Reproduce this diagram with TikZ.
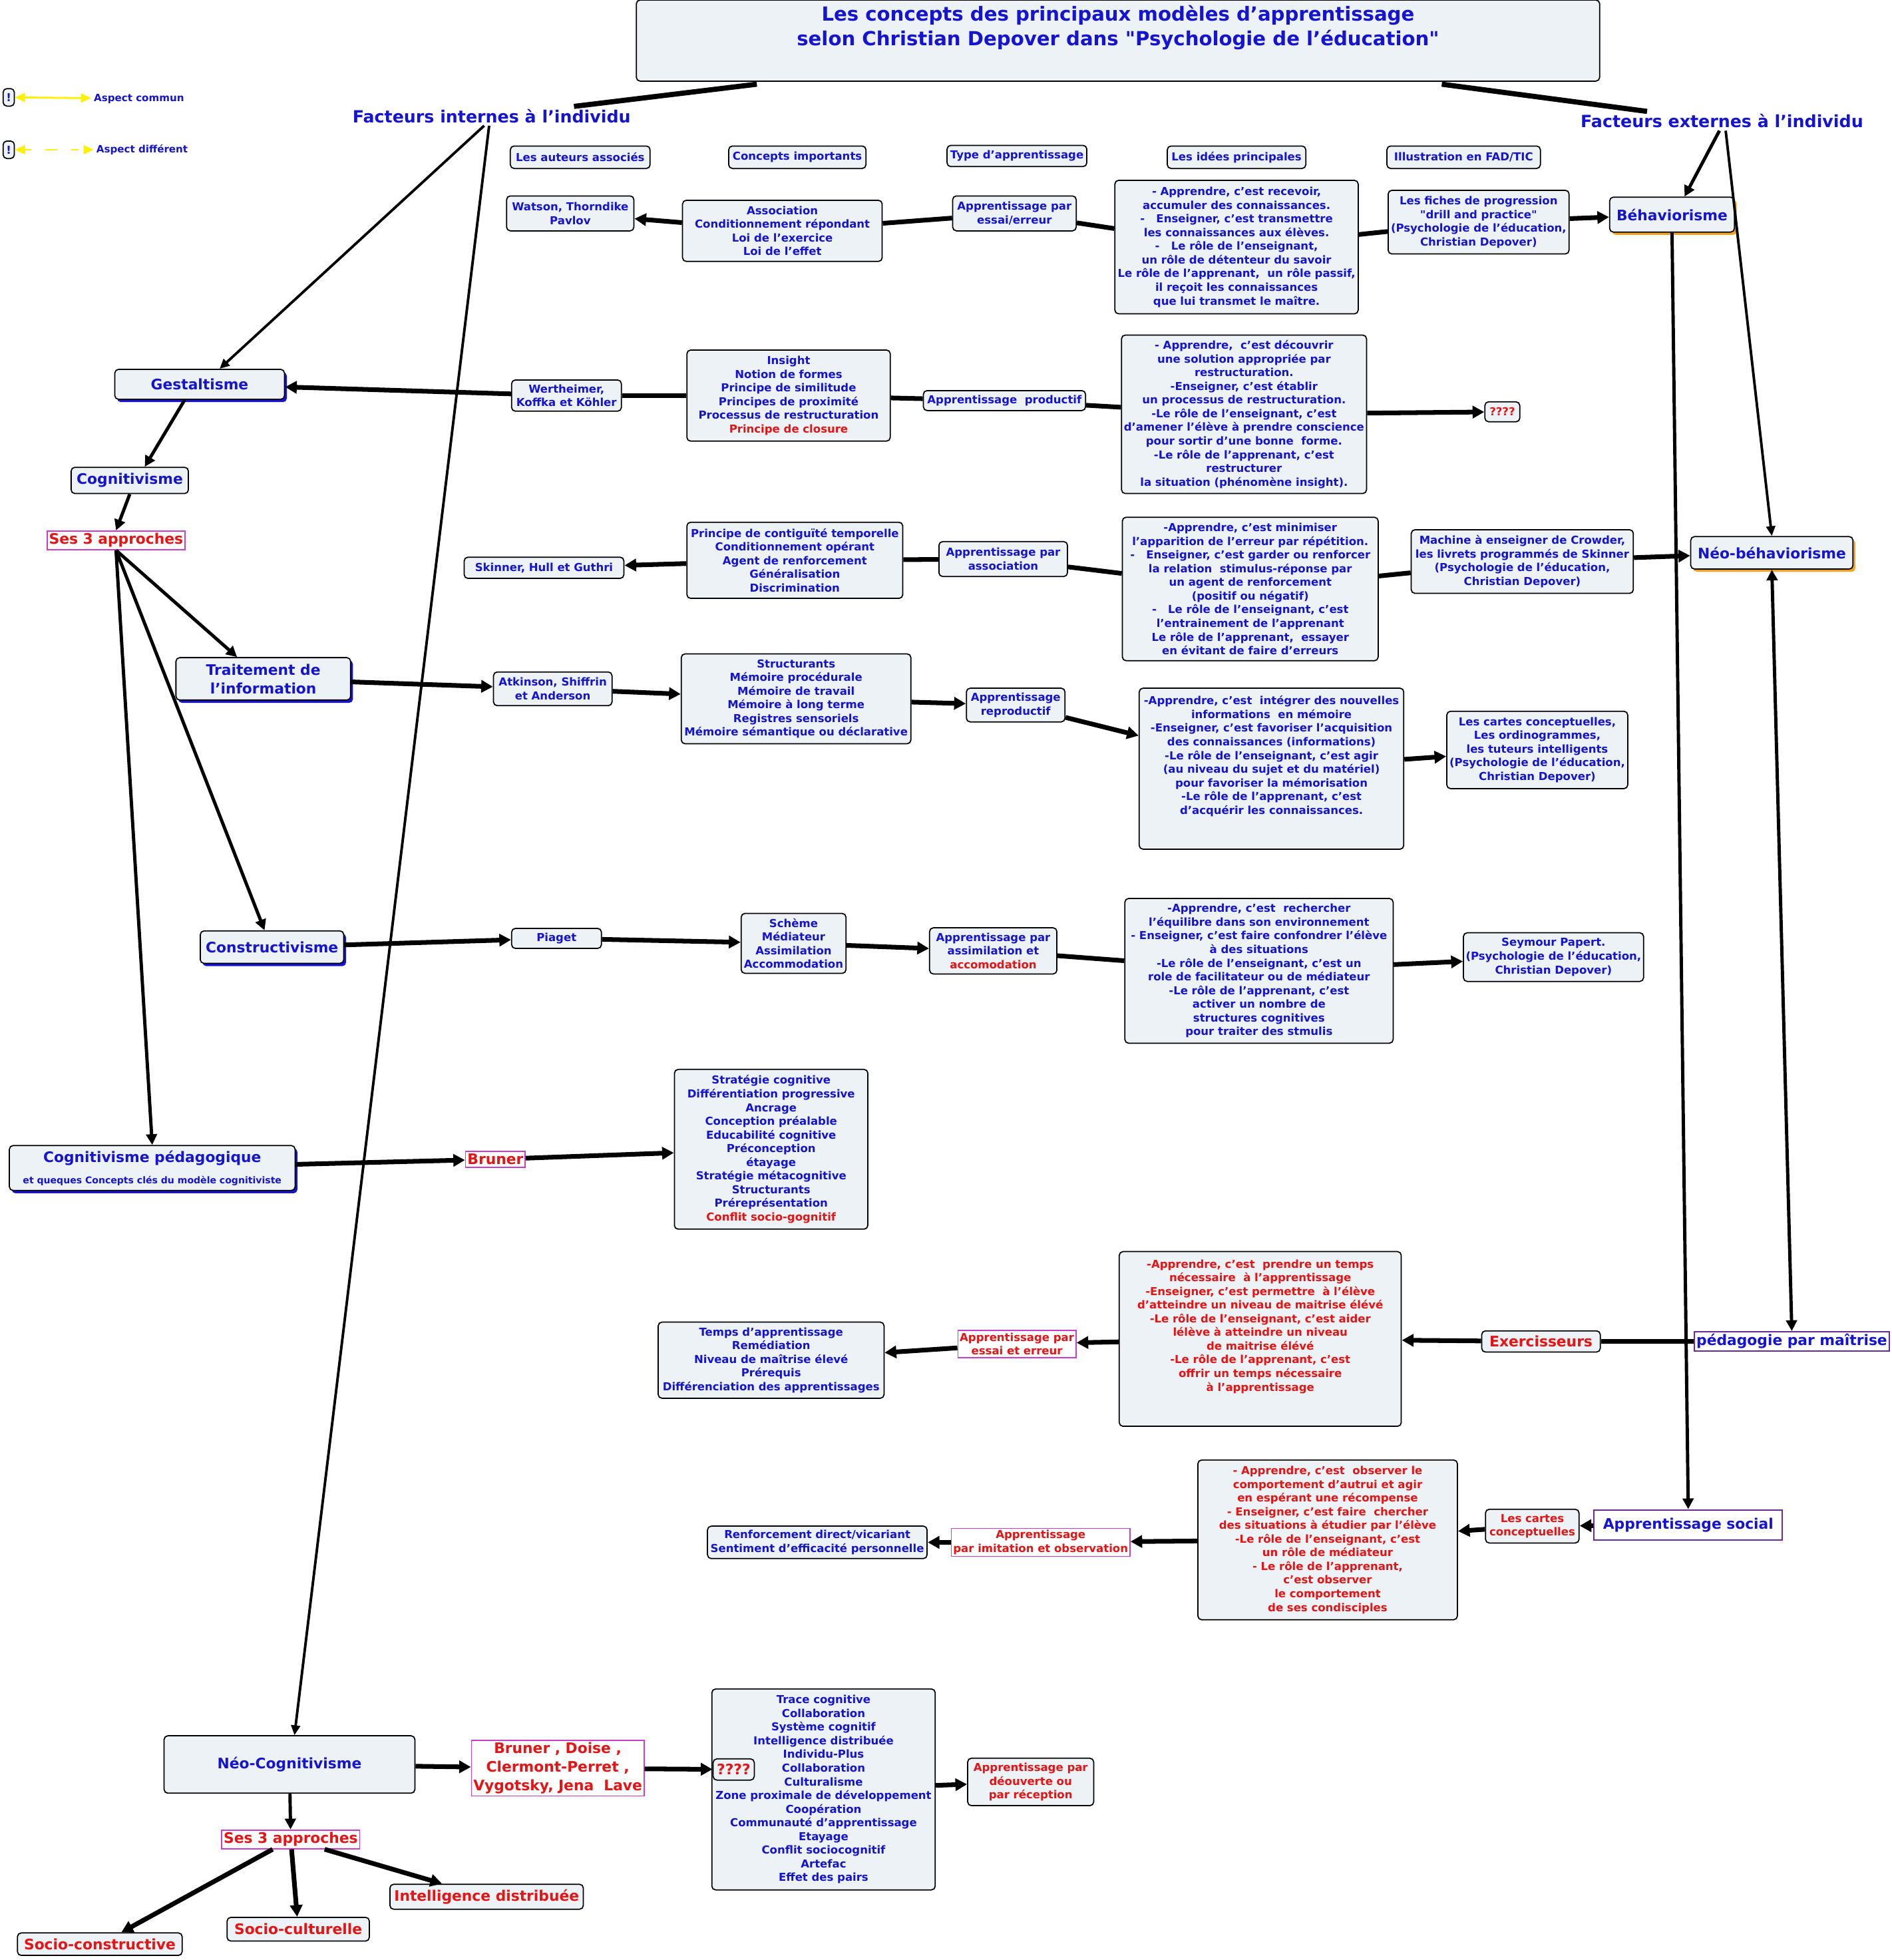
\documentclass[tikz,border=0pt]{standalone}
\usepackage{fontspec}
\setmainfont{DejaVu Sans}
\usetikzlibrary{arrows.meta,shadows}
\definecolor{boxfill}{RGB}{236,242,245}
\definecolor{txtblue}{RGB}{20,20,210}
\definecolor{txtred}{RGB}{230,20,20}
\definecolor{pinkline}{RGB}{205,60,200}
\definecolor{purpline}{RGB}{110,40,150}
\definecolor{shorange}{RGB}{245,160,30}
\definecolor{legyellow}{RGB}{255,240,0}
\newcommand\dpx{0.01875cm}
\tikzset{
  sm/.style={font=\bfseries\fontsize{4.7}{5.85}\selectfont},
  bg/.style={font=\bfseries\fontsize{6.2}{8}\selectfont},
  sz/.style 2 args={minimum width=#1*\dpx, minimum height=#2*\dpx},
  box/.style={draw, line width=0.5pt, rounded corners=1.6pt, fill=boxfill, text=txtblue, align=center, inner sep=1pt},
  pinkbox/.style={draw=pinkline, line width=0.5pt, fill=white, text=txtred, align=center, inner sep=0.8pt},
  purpbox/.style={draw=purpline, line width=0.6pt, fill=white, text=txtblue, align=center, inner sep=1pt},
  blsh/.style={drop shadow={shadow xshift=1pt, shadow yshift=-1.2pt, fill=txtblue, opacity=1}},
  orsh/.style={drop shadow={shadow xshift=1pt, shadow yshift=-1.2pt, fill=shorange, opacity=1}},
  con/.style={line width=2pt},
  arr/.style={con, -{Triangle[length=5pt,width=5.2pt]}},
  med/.style={line width=1.4pt, -{Triangle[length=4.6pt,width=4.6pt]}},
  lnk/.style={line width=1.1pt, -{Triangle[length=4.2pt,width=3.8pt]}},
  yel/.style={legyellow, line width=0.8pt, {Triangle[length=4.3pt,width=3.8pt]}-{Triangle[length=4.3pt,width=3.8pt]}},
}
\begin{document}
\begin{tikzpicture}[x=0.01875cm,y=-0.01875cm]
\useasboundingbox (0,0) rectangle (1516.3,1570.7);
% title and legend
\node[box, sz={772}{65}] (title) at (896,32.5) {};
\node[text=txtblue, align=center, font=\bfseries\fontsize{8.3}{10.6}\selectfont] (titletxt) at (896,22)
  {Les concepts des principaux modèles d'apprentissage\\selon Christian Depover dans \textquotedbl Psychologie de l’éducation\textquotedbl};
\node[box, sm, sz={9}{14}, inner sep=0.5pt] (bang1) at (7,78) {!};
\node[box, sm, sz={9}{14}, inner sep=0.5pt] (bang2) at (7,120) {!};
\node[anchor=west, text=txtblue, font=\bfseries\fontsize{4.3}{5}\selectfont, inner sep=1pt] (lgcommun) at (73,79) {Aspect commun};
\node[anchor=west, text=txtblue, font=\bfseries\fontsize{4.3}{5}\selectfont, inner sep=1pt] (lgdiff) at (75,120) {Aspect différent};
\draw[yel] (bang1) -- (lgcommun);
\draw[yel, dash pattern=on 3pt off 6pt on 5pt off 6pt] (bang2) -- (lgdiff);
\node[text=txtblue, font=\bfseries\fontsize{7.2}{8.5}\selectfont, inner sep=1pt] (fint) at (394,93) {Facteurs internes à l'individu};
\node[text=txtblue, font=\bfseries\fontsize{7.2}{8.5}\selectfont, inner sep=1pt] (fext) at (1380,97) {Facteurs externes à l'individu};
% column headers
\node[box, sm, sz={112}{18}] (hauth) at (465,126) {Les auteurs associés};
\node[box, sm, sz={110}{18}] (hconc) at (639,126) {Concepts importants};
\node[box, sm, sz={112}{17}] (htype) at (815,125) {Type d’apprentissage};
\node[box, sm, sz={111}{18}] (hidea) at (991,126) {Les idées principales};
\node[box, sm, sz={123}{18}] (hillu) at (1173,126) {Illustration en FAD/TIC};
% behaviorisme
\node[box, bg, sz={100}{28}, orsh] (beha) at (1340,172) {Béhaviorisme};
\node[box, sm, sz={102}{28}] (auth1) at (457,171) {Watson, Thorndike\\Pavlov};
\node[box, sm, sz={160}{49}] (conc1) at (627,185) {Association\\Conditionnement répondant\\Loi de l’exercice\\Loi de l’effet};
\node[box, sm, sz={99}{28}] (type1) at (813,171) {Apprentissage par\\essai/erreur};
\node[box, sm, sz={195}{107}] (idea1) at (991,198) {- Apprendre, c'est recevoir,\\accumuler des connaissances.\\- \ \ Enseigner, c’est transmettre\\les connaissances aux élèves.\\- \ \ Le rôle de l’enseignant,\\un rôle de détenteur du savoir\\Le rôle de l’apprenant, \ un rôle passif,\\il reçoit les connaissances\\que lui transmet le maître.};
\node[box, sm, sz={145}{51}] (illu1) at (1185,178) {Les fiches de progression\\\textquotedbl drill and practice\textquotedbl\\(Psychologie de l’éducation,\\Christian Depover)};
% gestaltisme
\node[box, bg, sz={136}{24}, blsh] (gest) at (160,308) {Gestaltisme};
\node[box, sm, sz={88}{25}] (auth2) at (454,317) {Wertheimer,\\Koffka et Köhler};
\node[box, sm, sz={163}{73}] (conc2) at (632,317) {Insight\\Notion de formes\\Principe de similitude\\Principes de proximité\\Processus de restructuration\\\textcolor{txtred}{Principe de closure}};
\node[box, sm, sz={130}{16}] (type2) at (805,321) {Apprentissage \ productif};
\node[box, sm, sz={196}{127}] (idea2) at (997,332) {- Apprendre, \ c'est découvrir\\une solution appropriée par\\restructuration.\\-Enseigner, c'est établir\\un processus de restructuration.\\-Le rôle de l'enseignant, c'est\\d'amener l'élève à prendre conscience\\pour sortir d'une bonne \ forme.\\-Le rôle de l'apprenant, c'est\\restructurer\\la situation (phénomène insight).};
\node[box, sm, sz={28}{16}, text=txtred] (quest1) at (1204,330) {????};
\node[box, bg, sz={94}{21}] (cogn) at (104,385) {Cognitivisme};
\node[pinkbox, bg, sz={110}{15}] (ses1) at (93,433) {Ses 3 approches};
% neo-behaviorisme
\node[box, bg, sz={130}{26}, orsh] (neob) at (1420,443) {Néo-béhaviorisme};
\node[box, sm, sz={128}{17}] (auth3) at (436,455) {Skinner, Hull et Guthri};
\node[box, sm, sz={173}{61}] (conc3) at (637,449) {Principe de contiguïté temporelle\\Conditionnement opérant\\Agent de renforcement\\Généralisation\\Discrimination};
\node[box, sm, sz={103}{28}] (type3) at (804,448) {Apprentissage par\\association};
\node[box, sm, sz={205}{115}] (idea3) at (1002,472) {-Apprendre, c'est minimiser\\l'apparition de l'erreur par répétition.\\- \ \ Enseigner, c'est garder ou renforcer\\la relation \ stimulus-réponse par\\un agent de renforcement\\(positif ou négatif)\\- \ \ Le rôle de l'enseignant, c'est\\l'entrainement de l'apprenant\\Le rôle de l'apprenant, \ essayer\\en évitant de faire d'erreurs};
\node[box, sm, sz={178}{51}] (illu3) at (1220,450) {Machine à enseigner de Crowder,\\les livrets programmés de Skinner\\(Psychologie de l'éducation,\\Christian Depover)};
% traitement de l'information
\node[box, bg, sz={140}{34}, blsh] (trait) at (211,544) {Traitement de\\l'information};
\node[box, sm, sz={95}{27}] (auth4) at (443,552) {Atkinson, Shiffrin\\et Anderson};
\node[box, sm, sz={184}{72}] (conc4) at (638,560) {Structurants\\Mémoire procédurale\\Mémoire de travail\\Mémoire à long terme\\Registres sensoriels\\Mémoire sémantique ou déclarative};
\node[box, sm, sz={79}{27}] (type4) at (814,565) {Apprentissage\\reproductif};
\node[box, sm, sz={212}{129}] (idea4) at (1019,616) {-Apprendre, c'est \ intégrer des nouvelles\\informations \ en mémoire\\-Enseigner, c'est favoriser l'acquisition\\des connaissances (informations)\\-Le rôle de l'enseignant, c'est agir\\(au niveau du sujet et du matériel)\\pour favoriser la mémorisation\\-Le rôle de l'apprenant, c'est\\d'acquérir les connaissances.\\~\\~};
\node[box, sm, sz={145}{62}] (illu4) at (1232,601) {Les cartes conceptuelles,\\Les ordinogrammes,\\les tuteurs intelligents\\(Psychologie de l'éducation,\\Christian Depover)};
% constructivisme
\node[box, bg, sz={115}{26}, blsh] (cons) at (218,759) {Constructivisme};
\node[box, sm, sz={72}{16}] (auth5) at (446,752) {Piaget};
\node[box, sm, sz={84}{48}] (conc5) at (636,756) {Schème\\Médiateur\\Assimilation\\Accommodation};
\node[box, sm, sz={102}{37}] (type5) at (796,762) {Apprentissage par\\assimilation et\\\textcolor{txtred}{accomodation}};
\node[box, sm, sz={215}{116}] (idea5) at (1009,778) {-Apprendre, c'est \ rechercher\\l'équilibre dans son environnement\\- Enseigner, c'est faire confondrer l'élève\\à des situations\\-Le rôle de l'enseignant, c'est un\\role de facilitateur ou de médiateur\\-Le rôle de l'apprenant, c'est\\activer un nombre de\\structures cognitives\\pour traiter des stmulis};
\node[box, sm, sz={144}{39}] (illu5) at (1245,767) {Seymour Papert.\\(Psychologie de l'éducation,\\Christian Depover)};
% cognitivisme pedagogique
\node[box, bg, sz={229}{36}, blsh] (cped) at (122,936) {Cognitivisme pédagogique\\[1pt]{\fontsize{4}{5}\selectfont et queques Concepts clés du modèle cognitiviste}};
\node[pinkbox, bg, sz={45}{13}] (brun1) at (397,929) {Bruner};
\node[box, sm, sz={155}{128}] (conc6) at (618,921) {Stratégie cognitive\\Différentiation progressive\\Ancrage\\Conception préalable\\Educabilité cognitive\\Préconception\\étayage\\Stratégie métacognitive\\Structurants\\Préreprésentation\\\textcolor{txtred}{Conflit socio-gognitif}};
% pedagogie par maitrise
\node[purpbox, bg, sz={153}{15}] (pped) at (1436,1075) {pédagogie par maîtrise};
\node[box, bg, sz={95}{17}, text=txtred] (exer) at (1235,1075) {Exercisseurs};
\node[box, sm, sz={226}{140}, text=txtred] (idea7) at (1010,1073) {-Apprendre, c'est \ prendre un temps\\nécessaire \ à l'apprentissage\\-Enseigner, c'est permettre \ à l'élève\\d'atteindre un niveau de maitrise élévé\\-Le rôle de l'enseignant, c'est aider\\lélève à atteindre un niveau\\de maitrise élévé\\-Le rôle de l'apprenant, c'est\\offrir un temps nécessaire\\à l'apprentissage\\~\\~};
\node[pinkbox, sm, sz={93}{22}] (type7) at (815,1077) {Apprentissage par\\essai et erreur};
\node[box, sm, sz={181}{61}] (conc7) at (618,1090) {Temps d'apprentissage\\Remédiation\\Niveau de maîtrise élevé\\Prérequis\\Différenciation des apprentissages};
% apprentissage social
\node[purpbox, bg, sz={151}{24}] (asoc) at (1353,1222) {Apprentissage social};
\node[box, sm, sz={75}{27}, text=txtred] (illu8) at (1228,1223) {Les cartes\\conceptuelles};
\node[box, sm, sz={208}{128}, text=txtred] (idea8) at (1064,1234) {- Apprendre, c'est \ observer le\\comportement d'autrui et agir\\en espérant une récompense\\- Enseigner, c'est faire \ chercher\\des situations à étudier par l'élève\\-Le rôle de l'enseignant, c'est\\un rôle de médiateur\\- Le rôle de l'apprenant,\\c'est observer\\le comportement\\de ses condisciples};
\node[pinkbox, sm, sz={138}{20}] (type8) at (834,1236) {Apprentissage\\par imitation et observation};
\node[box, sm, sz={176}{26}] (conc8) at (655,1236) {Renforcement direct/vicariant\\Sentiment d'efficacité personnelle};
% neo-cognitivisme
\node[box, bg, sz={201}{46}] (neoc) at (232,1414) {Néo-Cognitivisme};
\node[pinkbox, bg, sz={136}{42}] (auth9) at (447,1417) {Bruner , Doise ,\\Clermont-Perret ,\\Vygotsky, Jena \ Lave};
\node[box, sm, sz={179}{161}] (conc9) at (660,1434) {Trace cognitive\\Collaboration\\Système cognitif\\Intelligence distribuée\\Individu-Plus\\Collaboration\\Culturalisme\\Zone proximale de développement\\Coopération\\Communauté d'apprentissage\\Etayage\\Conflit sociocognitif\\Artefac\\Effet des pairs};
\node[box, bg, sz={33}{17}, text=txtred, inner sep=0.5pt] (quest2) at (588,1418) {????};
\node[box, sm, sz={101}{38}, text=txtred] (type9) at (826,1428) {Apprentissage par\\déouverte ou\\par réception};
\node[pinkbox, bg, sz={108}{15}] (ses2) at (233,1474) {Ses 3 approches};
\node[box, bg, sz={132}{18}, text=txtred] (socc) at (80,1558) {Socio-constructive};
\node[box, bg, sz={114}{19}, text=txtred] (socu) at (239,1546) {Socio-culturelle};
\node[box, bg, sz={155}{20}, text=txtred] (intd) at (390,1520) {Intelligence distribuée};
% tree connectors
\draw[con, line width=2.2pt] ([xshift=97*\dpx,yshift=-2*\dpx]title.south west) -- ([xshift=66*\dpx]fint.north);
\draw[con, line width=2.2pt] ([xshift=-127*\dpx,yshift=-2*\dpx]title.south east) -- ([xshift=-60*\dpx]fext.north);
\draw[lnk] ([xshift=-6*\dpx]fint.south) -- ([xshift=16*\dpx]gest.north);
\draw[lnk] ([xshift=-2*\dpx]fint.south) -- ([xshift=4*\dpx]neoc.north);
\draw[med] ([xshift=-2*\dpx]fext.south) -- ([xshift=10*\dpx]beha.north);
\draw[lnk] ([xshift=3*\dpx]fext.south) -- (neob.north);
\draw[med] (beha.south) -- (asoc.north);
\draw[med, {Triangle[length=4.6pt,width=4.6pt]}-{Triangle[length=4.6pt,width=4.6pt]}] (neob.south) -- (pped.north);
\draw[med] ([xshift=-12*\dpx]gest.south) -- ([xshift=12*\dpx]cogn.north);
\draw[med] (cogn.south) -- (ses1.north);
\draw[med] (ses1.south) -- ([xshift=-21*\dpx]trait.north);
\draw[med] (ses1.south) -- ([xshift=-6*\dpx]cons.north);
\draw[med] (ses1.south) -- (cped.north);
% row connectors
\draw[arr] (conc1) -- (auth1);
\draw[con] (type1) -- (conc1);
\draw[con] (idea1) -- (type1);
\draw[con] (idea1) -- (illu1);
\draw[arr] (illu1) -- (beha);
\draw[arr] (auth2) -- (gest);
\draw[con] (conc2) -- (auth2);
\draw[con] (type2) -- (conc2);
\draw[con] (idea2) -- (type2);
\draw[arr] (idea2) -- (quest1);
\draw[arr] (conc3) -- (auth3);
\draw[con] (type3) -- (conc3);
\draw[con] (idea3) -- (type3);
\draw[con] (idea3) -- (illu3);
\draw[arr] (illu3) -- (neob);
\draw[arr] (trait) -- (auth4);
\draw[arr] (auth4) -- (conc4);
\draw[arr] (conc4) -- (type4);
\draw[arr] (type4) -- (idea4);
\draw[arr] (idea4) -- (illu4);
\draw[arr] (cons) -- (auth5);
\draw[arr] (auth5) -- (conc5);
\draw[arr] (conc5) -- (type5);
\draw[con] (type5) -- (idea5);
\draw[arr] (idea5) -- (illu5);
\draw[arr] (cped) -- (brun1);
\draw[arr] (brun1) -- (conc6);
\draw[con] (pped) -- (exer);
\draw[arr] (exer) -- (idea7);
\draw[arr] (idea7) -- (type7);
\draw[arr] (type7) -- (conc7);
\draw[arr] (asoc) -- (illu8);
\draw[arr] (illu8) -- (idea8);
\draw[arr] (idea8) -- (type8);
\draw[arr] (type8) -- (conc8);
\draw[arr] (neoc) -- (auth9);
\draw[arr] (auth9) -- (quest2);
\draw[arr] (conc9) -- (type9);
\draw[med] (neoc) -- (ses2);
\draw[arr] (ses2) -- (socc);
\draw[arr] (ses2) -- (socu);
\draw[arr] (ses2) -- (intd);
\end{tikzpicture}
\end{document}
